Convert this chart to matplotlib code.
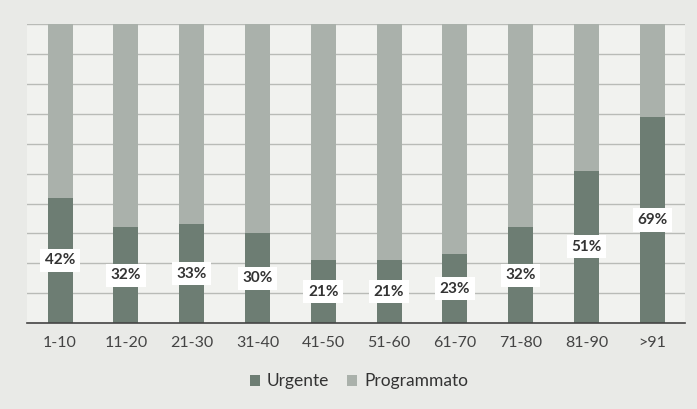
import matplotlib
matplotlib.use("Agg")
import matplotlib.pyplot as plt
import numpy as np

categories = ["1-10", "11-20", "21-30", "31-40", "41-50", "51-60", "61-70", "71-80", "81-90", ">91"]
urgente = [42, 32, 33, 30, 21, 21, 23, 32, 51, 69]
programmato = [100 - u for u in urgente]

c_urg = "#6d7d73"
c_prog = "#aab1ab"

plt.rcParams['font.family'] = ['Lato', 'DejaVu Sans']
fig = plt.figure(figsize=(6.97, 4.09), dpi=100, facecolor="#e9eae7")
ax = fig.add_axes([0.039, 0.210, 0.944, 0.731])
ax.set_facecolor("#f1f2ef")

x = np.arange(len(categories))
w = 0.38
ax.bar(x, urgente, w, color=c_urg, label="Urgente", zorder=2)
ax.bar(x, programmato, w, bottom=urgente, color=c_prog, label="Programmato", zorder=2)

for xi, u in zip(x, urgente):
    ax.text(xi, u / 2, f"{u}%", ha="center", va="center", fontsize=11, fontweight="bold",
            color="#333333", zorder=4,
            bbox=dict(boxstyle="square,pad=0.3", facecolor="white", edgecolor="none"))

ax.set_ylim(0, 100)
ax.set_xlim(-0.5, len(categories) - 0.5)
ax.set_yticks(np.arange(0, 101, 10))
ax.yaxis.grid(True, color="#b9bbb7", linewidth=1.0, zorder=0)
ax.tick_params(axis="y", left=False, labelleft=False)
ax.tick_params(axis="x", length=0, pad=9, labelsize=11.5, labelcolor="#444444")
ax.set_xticks(x)
ax.set_xticklabels(categories)
for s in ["top", "right", "left"]:
    ax.spines[s].set_visible(False)
ax.spines["bottom"].set_color("#444444")
ax.spines["bottom"].set_linewidth(1.2)

leg = fig.legend(loc="center", bbox_to_anchor=(0.515, 0.068), ncol=2, frameon=False,
                 fontsize=12.5, handlelength=0.6, handleheight=0.6, handletextpad=0.4,
                 columnspacing=1.0)
for t in leg.get_texts():
    t.set_color("#333333")

fig.savefig("out.png", dpi=100, facecolor=fig.get_facecolor())
